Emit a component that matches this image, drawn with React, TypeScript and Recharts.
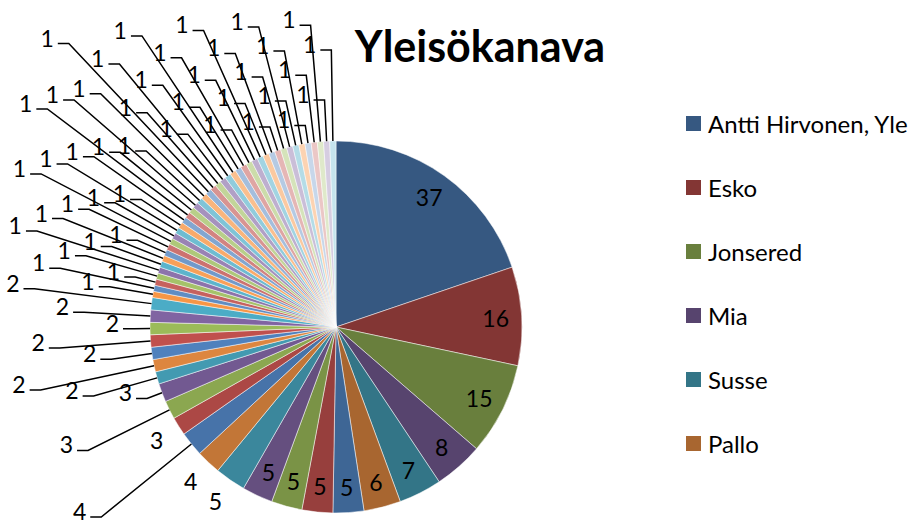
import React from 'react';
import { PieChart, Pie, Cell, Legend } from 'recharts';

const title = 'Yleisökanava';
const categories = ['Antti Hirvonen, Yle', 'Esko', 'Jonsered', 'Mia', 'Susse', 'Pallo'];
const values = [
  37, 16, 15, 8, 7, 6,
  5, 5, 5, 5, 5,
  4, 4,
  3, 3, 3,
  2, 2, 2, 2, 2, 2, 2,
  1, 1, 1, 1, 1, 1, 1, 1, 1, 1,
  1, 1, 1, 1, 1, 1, 1, 1, 1, 1,
  1, 1, 1, 1, 1, 1, 1, 1, 1, 1,
  1, 1, 1, 1, 1, 1, 1, 1, 1, 1,
  1, 1,
];

const BASE = ['#4F81BD', '#C0504D', '#9BBB59', '#8064A2', '#4BACC6', '#F79646'];
const FONT = 'Lato, "Open Sans", sans-serif';
const RAD = Math.PI / 180;
const INSIDE_COUNT = 10;
const NO_LEADER = [10, 11, 13];
const STAGGER = [0, 2, 4, 1, 3];

function hexToRgb(h: string) {
  const n = parseInt(h.slice(1), 16);
  return [(n >> 16) & 255, (n >> 8) & 255, n & 255];
}
function colorFor(i: number) {
  const [r, g, b] = hexToRgb(BASE[i % 6]);
  const c = Math.floor(i / 6);
  let out: number[];
  if (c <= 3) {
    const f = 0.68 + c * 0.107;
    out = [r * f, g * f, b * f];
  } else {
    const t = (c - 3) * 0.097;
    out = [r + (255 - r) * t, g + (255 - g) * t, b + (255 - b) * t];
  }
  return `rgb(${out.map((v) => Math.round(Math.min(255, v))).join(',')})`;
}

const data = values.map((v, i) => ({ name: categories[i] ?? `${i + 1}`, value: v }));

const renderLabel = (props: any) => {
  const { cx, cy, midAngle, outerRadius, index, value } = props;
  const cos = Math.cos(-midAngle * RAD);
  const sin = Math.sin(-midAngle * RAD);
  const style = { fontFamily: FONT, fontSize: 23, fill: '#000' };
  if (index < INSIDE_COUNT) {
    const r = outerRadius * 0.86;
    return (
      <text x={cx + r * cos} y={cy + r * sin} textAnchor="middle" dominantBaseline="central" style={style}>
        {value}
      </text>
    );
  }
  if (NO_LEADER.includes(index)) {
    const r = outerRadius + 26;
    return (
      <text x={cx + r * cos} y={cy + r * sin} textAnchor="middle" dominantBaseline="central" style={style}>
        {value}
      </text>
    );
  }
  const extra = 16 + STAGGER[index % 5] * 25;
  const k = sin < 0 ? Math.pow(1 / Math.max(Math.abs(cos), Math.abs(sin)), 0.8) : 1;
  const dist = (outerRadius + extra) * k;
  const ex = cx + outerRadius * cos;
  const ey = cy + outerRadius * sin;
  const px = cx + dist * cos;
  const py = cy + dist * sin;
  return (
    <g>
      <polyline points={`${ex},${ey} ${px},${py} ${px - 11},${py}`} fill="none" stroke="#000" strokeWidth={1.5} />
      <text x={px - 15} y={py + 3} textAnchor="end" style={style}>
        {value}
      </text>
    </g>
  );
};

const LegendContent = () => (
  <div style={{ fontFamily: FONT }}>
    {categories.map((name, i) => (
      <div key={i} style={{ height: 64, display: 'flex', alignItems: 'center', whiteSpace: 'nowrap' }}>
        <div style={{ width: 15, height: 15, background: colorFor(i), marginRight: 7, flex: 'none' }} />
        <span style={{ fontSize: 24, color: '#000' }}>{name}</span>
      </div>
    ))}
  </div>
);

export default function App() {
  return (
    <div style={{ position: 'absolute', left: 0, top: 0, width: 912, height: 529, overflow: 'hidden', background: '#fff' }}>
      <PieChart width={912} height={529} margin={{ top: 0, right: 0, bottom: 0, left: 0 }}>
        <Pie
          data={data}
          dataKey="value"
          nameKey="name"
          cx={336}
          cy={327}
          outerRadius={186}
          startAngle={90}
          endAngle={-270}
          stroke="#ffffff"
          strokeWidth={0.5}
          label={renderLabel}
          labelLine={false}
          isAnimationActive={false}
        >
          {data.map((_, i) => (
            <Cell key={i} fill={colorFor(i)} />
          ))}
        </Pie>
        <Legend
          layout="vertical"
          align="right"
          verticalAlign="top"
          wrapperStyle={{ left: 686, top: 91, right: 'auto', width: 260 }}
          content={<LegendContent />}
        />
      </PieChart>
      <svg width={912} height={529} style={{ position: 'absolute', left: 0, top: 0, pointerEvents: 'none' }}>
        <text x={480} y={62} textAnchor="middle" style={{ fontFamily: FONT, fontWeight: 700, fontSize: 43, fill: '#000' }}>
          {title}
        </text>
      </svg>
    </div>
  );
}
